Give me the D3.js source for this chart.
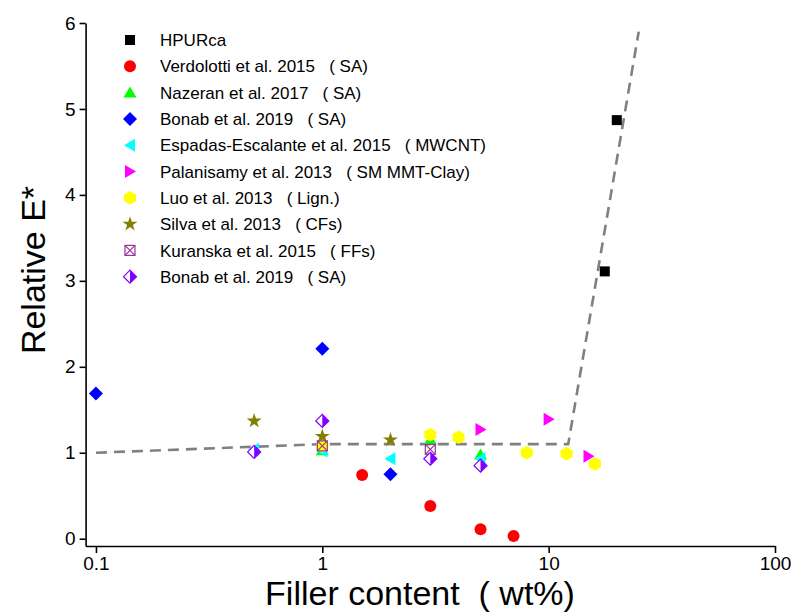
<!DOCTYPE html>
<html>
<head>
<meta charset="utf-8">
<script src="https://cdn.jsdelivr.net/npm/d3@7"></script>
<style>
  body { margin: 0; background: #fff; }
  svg { display: block; font-family: "Liberation Sans", Arial, sans-serif; }
</style>
</head>
<body>
<svg id="chart" width="794" height="613"></svg>
<script>
const WIDTH = 794;
const HEIGHT = 613;

// series (x = filler wt%, y = relative E*)
const hpurcaX = [17.7, 20];
const hpurcaY = [3.11, 4.87];
const verdolottiX = [1.5, 3, 5, 7];
const verdolottiY = [0.74, 0.38, 0.11, 0.03];
const nazeranX = [1, 3, 5];
const nazeranY = [1.03, 1.15, 0.98];
const bonabX = [0.1, 1, 2];
const bonabY = [1.69, 2.21, 0.75];
const espadasX = [0.5, 1, 2, 5];
const espadasY = [1.04, 1.02, 0.93, 0.93];
const palanisamyX = [5, 10, 15];
const palanisamyY = [1.27, 1.39, 0.96];
const luoX = [1, 3, 4, 8, 12, 16];
const luoY = [1.08, 1.21, 1.18, 1.0, 0.99, 0.87];
const silvaX = [0.5, 1, 2];
const silvaY = [1.37, 1.19, 1.15];
const kuranskaX = [1, 3];
const kuranskaY = [1.08, 1.04];
const bonab2X = [0.5, 1, 3, 5];
const bonab2Y = [1.01, 1.37, 0.93, 0.85];

// dashed trend line
const trendX = [0.1, 1, 12.2, 25];
const trendY = [1.0, 1.1, 1.1, 5.9];

const xTickValues = [0.1, 1, 10, 100];
const xTickLabels = ["0.1", "1", "10", "100"];
const yTickValues = [0, 1, 2, 3, 4, 5, 6];
const yTickLabels = ["0", "1", "2", "3", "4", "5", "6"];

const series = [
    { name: "HPURca", suffix: "", x: hpurcaX, y: hpurcaY, shape: "square", color: "#000000" },
    { name: "Verdolotti et al. 2015", suffix: "SA)", x: verdolottiX, y: verdolottiY, shape: "circle", color: "#ff0000" },
    { name: "Nazeran et al. 2017", suffix: "SA)", x: nazeranX, y: nazeranY, shape: "triUp", color: "#00ff00" },
    { name: "Bonab et al. 2019", suffix: "SA)", x: bonabX, y: bonabY, shape: "diamond", color: "#0000ff" },
    { name: "Espadas-Escalante et al. 2015", suffix: "MWCNT)", x: espadasX, y: espadasY, shape: "triLeft", color: "#00ffff" },
    { name: "Palanisamy et al. 2013", suffix: "SM MMT-Clay)", x: palanisamyX, y: palanisamyY, shape: "triRight", color: "#ff00ff" },
    { name: "Luo et al. 2013", suffix: "Lign.)", x: luoX, y: luoY, shape: "hexagon", color: "#ffff00" },
    { name: "Silva et al. 2013", suffix: "CFs)", x: silvaX, y: silvaY, shape: "star", color: "#808000" },
    { name: "Kuranska et al. 2015", suffix: "FFs)", x: kuranskaX, y: kuranskaY, shape: "xsquare", color: "#993399" },
    { name: "Bonab et al. 2019", suffix: "SA)", x: bonab2X, y: bonab2Y, shape: "halfDiamond", color: "#8000ff" }
];

const svg = d3.select('#chart');

const xScale = d3.scaleLog()
    .domain([0.09, 100])
    .range([85.6, 775]);

const yScale = d3.scaleLinear()
    .domain([-0.085, 6])
    .range([546, 23]);

// draw one marker centred at 0,0 inside g
function drawMarker(g, shape, color) {
    if (shape === "square") {
        g.append('rect').attr('x', -5).attr('y', -5).attr('width', 10).attr('height', 10).attr('fill', color);
    } else if (shape === "circle") {
        g.append('circle').attr('r', 6).attr('fill', color);
    } else if (shape === "triUp") {
        g.append('path').attr('d', 'M0,-6L6.5,5L-6.5,5Z').attr('fill', color);
    } else if (shape === "triLeft") {
        g.append('path').attr('d', 'M-6,0L5,-6.5L5,6.5Z').attr('fill', color);
    } else if (shape === "triRight") {
        g.append('path').attr('d', 'M6,0L-5,-6.5L-5,6.5Z').attr('fill', color);
    } else if (shape === "diamond") {
        g.append('path').attr('d', 'M0,-7L7,0L0,7L-7,0Z').attr('fill', color);
    } else if (shape === "hexagon") {
        g.append('path').attr('d', 'M0,-6.8L6,-3.4L6,3.4L0,6.8L-6,3.4L-6,-3.4Z').attr('fill', color);
    } else if (shape === "star") {
        g.append('path').attr('d', d3.symbol(d3.symbolStar, 70)()).attr('fill', color);
    } else if (shape === "xsquare") {
        g.append('rect').attr('x', -5).attr('y', -5).attr('width', 10).attr('height', 10)
            .attr('fill', 'none').attr('stroke', color).attr('stroke-width', 1.2);
        g.append('path').attr('d', 'M-5,-5L5,5M5,-5L-5,5')
            .attr('stroke', color).attr('stroke-width', 1.2);
    } else if (shape === "halfDiamond") {
        g.append('path').attr('d', 'M0,-6.5L6.5,0L0,6.5L-6.5,0Z')
            .attr('fill', '#fff').attr('stroke', color).attr('stroke-width', 1.2);
        g.append('path').attr('d', 'M0,-6.5L6.5,0L0,6.5Z').attr('fill', color);
    }
}

// trend line
const line = d3.line()
    .x(d => xScale(d[0]))
    .y(d => yScale(d[1]));

svg.append('path')
    .datum(d3.zip(trendX, trendY))
    .attr('d', line)
    .attr('fill', 'none')
    .attr('stroke', '#808080')
    .attr('stroke-width', 2.6)
    .attr('stroke-dasharray', '11,7');

// points
series.forEach(s => {
    svg.append('g')
        .selectAll('g')
        .data(d3.zip(s.x, s.y))
        .enter()
        .append('g')
        .attr('transform', d => `translate(${xScale(d[0])},${yScale(d[1])})`)
        .each(function () { drawMarker(d3.select(this), s.shape, s.color); });
});

// axes
const xMinor = [];
[0.01, 0.1, 1, 10].forEach(dec => {
    for (let k = 2; k <= 9; k++) {
        let v = dec * k;
        if (v >= 0.09 && v <= 100) xMinor.push(v);
    }
});
const yMinor = d3.range(0.5, 6, 1);

const xAxisG = svg.append('g').attr('transform', `translate(0,${yScale.range()[0]})`);
xAxisG.call(d3.axisBottom(xScale).tickValues(xMinor).tickFormat('').tickSize(4).tickSizeOuter(0));
xAxisG.call(d3.axisBottom(xScale).tickValues(xTickValues)
    .tickFormat((d, i) => xTickLabels[i]).tickSize(7).tickSizeOuter(0).tickPadding(4));

const yAxisG = svg.append('g').attr('transform', `translate(${xScale.range()[0]},0)`);
yAxisG.call(d3.axisLeft(yScale).tickValues(yMinor).tickFormat('').tickSize(4).tickSizeOuter(0));
yAxisG.call(d3.axisLeft(yScale).tickValues(yTickValues)
    .tickFormat((d, i) => yTickLabels[i]).tickSize(6).tickSizeOuter(0).tickPadding(4));

svg.selectAll('.domain, .tick line')
    .attr('stroke', '#000')
    .attr('stroke-width', 1.6);
svg.selectAll('.tick text')
    .attr('fill', '#000')
    .style('font-size', '19px');

// axis titles
svg.append('text')
    .attr('x', 420)
    .attr('y', 605)
    .attr('text-anchor', 'middle')
    .style('font-size', '34px')
    .text('Filler content\u00a0\u00a0(\u00a0wt%)');

svg.append('text')
    .attr('transform', 'translate(45,270) rotate(-90)')
    .attr('text-anchor', 'middle')
    .style('font-size', '34px')
    .text('Relative E*');

// legend
const legend = svg.append('g').attr('transform', 'translate(130,40)');
series.forEach((s, i) => {
    let row = legend.append('g').attr('transform', `translate(0,${i * 26.3})`);
    drawMarker(row.append('g'), s.shape, s.color);
    row.append('text')
        .attr('x', 30)
        .attr('dy', '0.36em')
        .style('font-size', '17px')
        .text(s.suffix ? `${s.name}\u00a0\u00a0\u00a0(\u00a0${s.suffix}` : s.name);
});
</script>
</body>
</html>
